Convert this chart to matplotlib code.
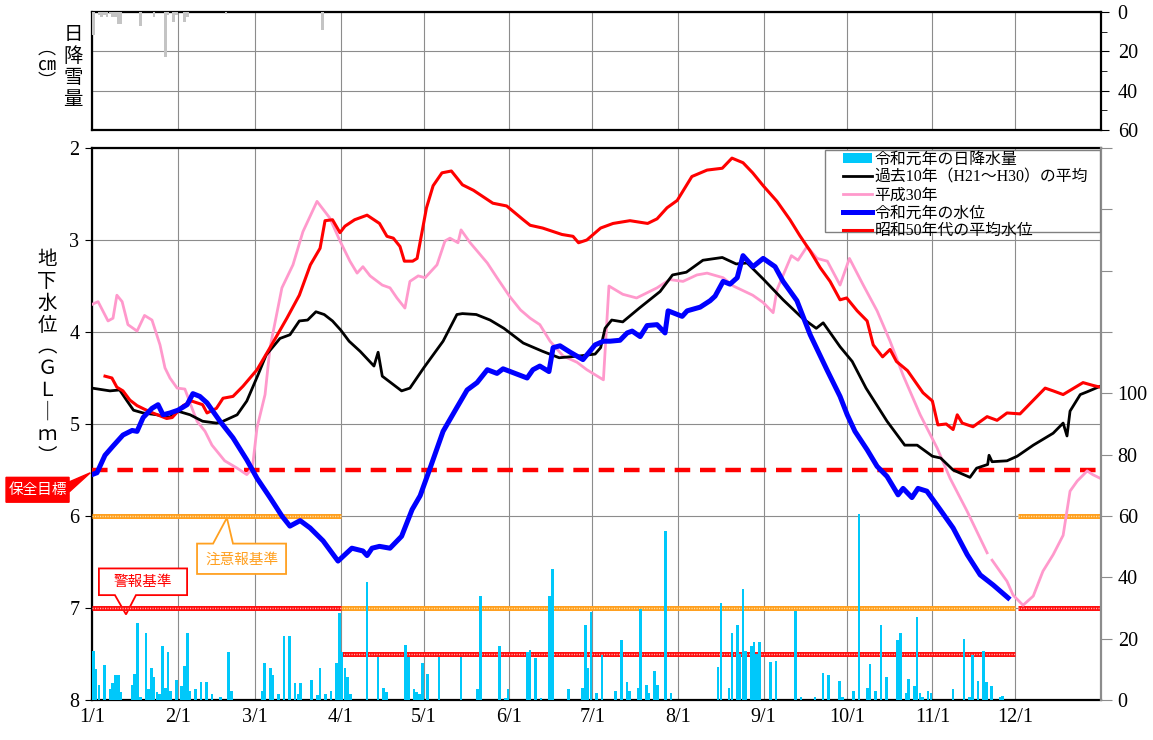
import numpy as np
import matplotlib.pyplot as plt
from matplotlib.patches import Patch, Polygon, Rectangle
from matplotlib.lines import Line2D

W, H = 1153, 740

# ---- data -------------------------------------------------------------
month_days = [0, 31, 59, 90, 120, 151, 181, 212, 243, 273, 304, 334]
month_labels = ["1/1", "2/1", "3/1", "4/1", "5/1", "6/1", "7/1", "8/1",
                "9/1", "10/1", "11/1", "12/1"]

# daily snowfall (cm)
snow_day = [0, 2, 3, 4, 5, 6, 7, 8, 9, 10, 17, 22, 26, 27, 29, 30, 33, 34, 48, 83]
snow_cm = [11.7, 1.5, 2.7, 1.5, 2.7, 1, 2.3, 2.3, 6.3, 6.3, 7, 2.3, 23, 1.5, 5, 1.5,
           5, 2.3, 1.2, 9]

# daily precipitation R1 (mm)
rain_day = [0, 1, 2, 4, 6, 7, 8, 9, 10, 14, 15, 16, 17, 19, 20, 21, 22, 23, 24,
            25, 26, 27, 28, 30, 32, 33, 34, 35, 37, 39, 41, 43, 46, 49, 50,
            61, 62, 64, 65, 67, 69, 71, 73, 74, 75, 79, 81, 82, 84, 86, 88, 89, 90, 91, 92, 93,
            99, 103, 105, 106, 113, 114, 116, 117, 118, 119, 121, 125, 133, 139, 140,
            147, 149, 150, 157, 158, 160, 162, 165, 166,
            172, 177, 178, 179, 180, 182, 184, 189, 191, 193, 194, 197, 198, 200, 201,
            203, 204, 207, 209,
            226, 227, 230, 231, 233, 234, 235, 236, 238, 239, 240, 241, 245, 247, 254,
            256, 261, 264, 266, 270, 271, 275, 277, 280, 281, 283, 285, 287, 291, 292,
            294, 295, 297, 298, 299, 300, 302, 303, 311, 315, 317, 318, 320, 322, 323,
            325, 328, 329]
rain_mm = [16, 10, 5, 11.5, 3.6, 5.6, 8, 8, 2.7, 5, 8.5, 25, 1, 22, 3.6, 10.5, 7.5, 2.6, 2,
           17.5, 4, 15.7, 3, 6.5, 4.6, 11, 22, 3, 3.6, 6, 6, 2, 1, 15.7, 3,
           3, 12, 10.5, 8, 2, 21, 21, 5.6, 2, 5.6, 6.5, 1.5, 10.5, 2, 3, 12, 28.5, 15.7, 10.5, 7.5, 2,
           38.5, 14, 4, 2.6, 18, 14, 3.6, 2.6, 2, 12, 8.5, 14, 14, 3.6, 34,
           17.5, 0.7, 3.6, 15.8, 16.4, 13.7, 0.5, 34, 42.8,
           3.6, 4, 24.5, 10.3, 28.6, 2.2, 14.6, 3, 19.6, 5.8, 3, 4, 29.7, 5, 2.2,
           9.5, 5, 55, 2.2,
           10.6, 31.6, 4, 21.8, 24.5, 15, 36.3, 15.9, 17.6, 19, 15, 19, 12.3, 12.7, 29,
           0.9, 0.9, 8.7, 8.2, 6.2, 0.9, 3, 60.8, 4, 11.7, 3, 24.5, 7.6, 19.6, 22,
           2.2, 7, 4.7, 27.2, 2.2, 0.9, 3, 2.2, 3.6, 20, 0.9, 14.7, 6.2, 16, 5.8,
           4.7, 0.9, 1.2]

# groundwater level R1 (GL-m)
r1_day = [0, 1.8, 4.7, 7.6, 11.2, 14.5, 16.3, 18.5, 21.7, 23.9, 25.7, 28.2, 31.1, 34.4,
          36.5, 39, 41.6, 46.3, 51, 56, 59.7, 64.4, 68.7, 71.6, 75.3, 78.9, 83.6, 89,
          94, 98, 99.5, 101.3, 104, 107.8, 112, 115.8, 118.7, 122.3, 127, 132, 135.7,
          139.3, 143, 146.5, 148.7, 157.4, 159.5, 162, 165.3, 166.8, 169.3, 173, 177.6,
          182, 185, 187.4, 191, 193.6, 195.4, 198.3, 200.8, 204.4, 207.3, 208.4, 213.5,
          215.3, 220, 223.6, 225.4, 228.3, 230.8, 233.4, 235.5, 239.1, 242.8, 247.1,
          250, 255, 259.8, 266, 270.6, 273.2, 276, 280.4, 284, 287.6, 291.6, 293.4,
          296.6, 298.8, 302, 306.8, 311.5, 316.6, 321.3, 326, 331.4]
r1_lv = [5.55, 5.53, 5.34, 5.24, 5.12, 5.07, 5.08, 4.93, 4.83, 4.79, 4.90, 4.88, 4.85, 4.79,
         4.67, 4.70, 4.77, 4.97, 5.15, 5.39, 5.59, 5.80, 6.00, 6.11, 6.05, 6.13, 6.27, 6.49,
         6.35, 6.38, 6.43, 6.35, 6.33, 6.35, 6.22, 5.93, 5.78, 5.48, 5.08, 4.82, 4.63,
         4.55, 4.41, 4.45, 4.40, 4.50, 4.41, 4.37, 4.43, 4.17, 4.15, 4.22, 4.30,
         4.14, 4.10, 4.10, 4.09, 4.01, 3.99, 4.05, 3.93, 3.92, 4.01, 3.77, 3.83,
         3.77, 3.73, 3.66, 3.61, 3.45, 3.48, 3.41, 3.17, 3.29, 3.20, 3.29,
         3.45, 3.66, 4.03, 4.42, 4.70, 4.90, 5.08, 5.28, 5.46, 5.57, 5.77, 5.70,
         5.80, 5.70, 5.73, 5.93, 6.13, 6.42, 6.64, 6.75, 6.89]

# 10-year average (H21-H30)
avg_day = [0, 6.5, 10, 12.7, 15, 18.5, 23.5, 28, 31, 35.5, 40, 45, 47.4, 52.5, 56, 60, 63,
           68, 71.6, 75, 78, 81, 84, 87, 90, 93, 97, 102, 103.5, 105, 112, 115, 120, 127,
           132, 134, 139, 144, 149, 156, 163, 169, 176.5, 182, 184, 185.6, 188, 192, 198,
           205.5, 210, 215, 221, 228, 233, 237, 243, 250, 257, 262, 264.5, 270.6, 275,
           280, 287.6, 294, 298.5, 304, 307, 311.5, 317.6, 320, 324, 324.5, 325.6, 331,
           334.7, 340.5, 347.7, 351.3, 352.7, 353.8, 357.5, 360, 364.7]
avg_lv = [4.61, 4.64, 4.63, 4.75, 4.85, 4.88, 4.90, 4.93, 4.86, 4.90, 4.97, 4.99, 4.97, 4.90,
          4.75, 4.47, 4.25, 4.07, 4.03, 3.88, 3.87, 3.78, 3.81, 3.88, 3.98, 4.10, 4.21, 4.37,
          4.22, 4.48, 4.64, 4.61, 4.39, 4.10, 3.81, 3.80, 3.81, 3.87, 3.96, 4.12, 4.21, 4.28,
          4.26, 4.24, 4.17, 3.96, 3.87, 3.89, 3.74, 3.56, 3.38, 3.35, 3.22, 3.19, 3.26, 3.25,
          3.43, 3.65, 3.85, 3.96, 3.90, 4.16, 4.32, 4.61, 4.97, 5.23, 5.23, 5.35, 5.37,
          5.50, 5.58, 5.48, 5.44, 5.34, 5.41, 5.40, 5.35, 5.23, 5.10, 4.99, 5.13, 4.86,
          4.68, 4.65, 4.59]

# H30
h30_day = [0, 2.2, 5.8, 7.6, 9, 10.9, 13, 16.3, 19, 21.7, 24.6, 26.4, 28.2, 30.8, 33.6,
           36.2, 38, 40.9, 43.4, 48, 52.5, 56, 58, 59.7, 62.6, 64.4, 68.7, 72.7, 76.3, 81.4,
           86, 89.7, 93.3, 95.9, 98, 100.6, 105, 107.8, 110.3, 113.2, 115, 118, 120.5,
           124.8, 127.7, 129.5, 132.4, 133.5, 136.8, 143, 146.5, 151, 155, 158.5, 162,
           165.7, 170.4, 175.5, 179, 185, 187, 192, 197, 204.4, 209, 213.8, 218.8, 222.5,
           228.3, 232, 239, 242.8, 246.4, 247.8, 253, 255.4, 258.7, 262.3, 266, 270.6, 274,
           279, 284, 288.7, 293.4, 299.6, 305.7, 310.4, 316.6, 323.8, 324.7, 325.6, 331,
           333.2, 336.8, 340.5, 344, 347.7, 351.3, 353.8, 356.4, 360, 362, 364.7]
h30_lv = [3.70, 3.67, 3.88, 3.85, 3.60, 3.67, 3.92, 3.99, 3.82, 3.87, 4.14, 4.39, 4.50, 4.61,
          4.62, 4.83, 4.97, 5.08, 5.23, 5.40, 5.48, 5.55, 5.48, 5.04, 4.68, 4.17, 3.52, 3.27,
          2.91, 2.58, 2.76, 3.01, 3.23, 3.36, 3.29, 3.39, 3.49, 3.52, 3.63, 3.74, 3.45, 3.39,
          3.41, 3.27, 3.01, 2.98, 3.03, 2.89, 3.03, 3.25, 3.41, 3.61, 3.76, 3.85, 3.92,
          4.10, 4.26, 4.33, 4.41, 4.52, 3.50, 3.59, 3.63, 3.52, 3.43, 3.45, 3.38, 3.36,
          3.41, 3.50, 3.60, 3.68, 3.79, 3.54, 3.17, 3.22, 3.07, 3.20, 3.23, 3.49, 3.20,
          3.49, 3.77, 4.10, 4.47, 4.90, 5.26, 5.59, 5.95, 6.40, np.nan, 6.48, 6.71,
          6.86, 6.97, 6.87, 6.60, 6.42, 6.21, 5.73, 5.62, 5.51, 5.55, 5.59]

# S50s average
s50_day = [4.7, 7.2, 9, 11.2, 13.7, 16.3, 19, 22, 27, 29, 33, 36, 40, 41.6, 45, 47.4, 51,
           54.6, 59.7, 64.4, 70.5, 75, 79, 82.5, 84.3, 87, 89.7, 91.5, 95, 99.5, 104, 106.7,
           109, 111.4, 113, 116, 117.6, 119.4, 121, 123.4, 126.6, 130, 134, 138, 145, 150,
           156, 158.5, 163, 170, 174, 176, 179, 184, 188.5, 194.6, 201, 204.4, 208, 211.7,
           217, 222.5, 228, 231.5, 235.5, 239, 242.8, 247.8, 252.5, 256, 259.8, 263.4, 267,
           270.6, 273, 276.8, 280.4, 282.6, 286, 288.7, 291, 295, 300.6, 304, 306, 309,
           311.5, 313, 314.8, 318.7, 323.8, 327.4, 331, 335.7, 338.3, 344.8, 347.7, 351.3,
           358.5, 362, 364.7]
s50_lv = [4.48, 4.50, 4.60, 4.64, 4.74, 4.80, 4.84, 4.88, 4.94, 4.93, 4.80, 4.75, 4.79, 4.88,
          4.83, 4.72, 4.70, 4.59, 4.41, 4.17, 3.85, 3.60, 3.27, 3.09, 2.79, 2.78, 2.92, 2.85,
          2.78, 2.73, 2.82, 2.96, 2.98, 3.07, 3.23, 3.23, 3.20, 2.91, 2.65, 2.41, 2.27, 2.25,
          2.40, 2.46, 2.60, 2.63, 2.78, 2.84, 2.87, 2.94, 2.96, 3.03, 3.00, 2.87, 2.82, 2.79,
          2.82, 2.77, 2.65, 2.57, 2.31, 2.24, 2.22, 2.11, 2.16, 2.27, 2.41, 2.58, 2.78, 2.95,
          3.12, 3.30, 3.45, 3.65, 3.63, 3.77, 3.88, 4.14, 4.27, 4.19, 4.32, 4.42, 4.66, 4.75,
          5.01, 5.00, 5.06, 4.90, 4.99, 5.03, 4.92, 4.96, 4.88, 4.89, 4.81, 4.61, 4.64, 4.68,
          4.55, 4.58, 4.60]

# reference levels
target_level = 5.5
caution_start = [0, 90, 335]
caution_end = [90, 334, 365]
caution_level = [6, 7, 6]
warning_start = [0, 90, 335]
warning_end = [90, 334, 365]
warning_level = [7, 7.5, 7]

# ---- figure ----------------------------------------------------------
jp = ['Noto Sans CJK JP', 'DejaVu Sans']
num = ['Liberation Serif', 'Noto Sans CJK JP']
plt.rcParams['font.family'] = num

fig = plt.figure(figsize=(W / 100, H / 100), dpi=100)


def px(x0, y0, x1, y1):
    return [x0 / W, 1 - y1 / H, (x1 - x0) / W, (y1 - y0) / H]


grid_c = '#8c8c8c'

# snowfall panel
ax_s = fig.add_axes(px(92, 12, 1101, 130))
ax_s.bar(snow_day, snow_cm, width=0.95, align='edge', color='#c4c4c4', zorder=3)
ax_s.set_xlim(0, 365)
ax_s.set_ylim(60, 0)
ax_s.set_xticks(month_days)
ax_s.set_xticklabels([])
ax_s.tick_params(axis='x', length=0)
ax_s.yaxis.tick_right()
ax_s.set_yticks([0, 20, 40, 60])
ax_s.set_yticks([10, 30, 50], minor=True)
ax_s.tick_params(axis='y', which='major', length=6, labelsize=14.5, pad=6)
ax_s.tick_params(axis='y', which='minor', length=4)
ax_s.grid(True, color=grid_c, lw=0.8)
ax_s.set_axisbelow(True)
for s in ax_s.spines.values():
    s.set_linewidth(1.6)

# main panel
ax = fig.add_axes(px(92, 148, 1101, 700))
ax.set_xlim(0, 365)
ax.set_ylim(8, 2)
ax.set_xticks(month_days, month_labels)
ax.set_yticks(range(2, 9))
ax.tick_params(axis='x', length=0, labelsize=14.5, pad=6)
ax.tick_params(axis='y', length=5, labelsize=14.5, pad=4)
ax.grid(True, color=grid_c, lw=0.8)
ax.set_axisbelow(True)
for k in ['left', 'bottom', 'top']:
    ax.spines[k].set_linewidth(1.6)
ax.spines['right'].set_visible(False)

# thresholds
ax.plot([0, 365], [target_level] * 2, color='#ff0000', lw=3.2, dashes=(3.5, 2.2), zorder=3)
for s, e, lv in zip(caution_start, caution_end, caution_level):
    ax.plot([s, e], [lv, lv], color='#ffa020', lw=3.6, solid_capstyle='butt', zorder=3)
    ax.plot([s, e], [lv, lv], color='#ffe2a8', lw=1.0, dashes=(0.8, 1.0), zorder=3)
for s, e, lv in zip(warning_start, warning_end, warning_level):
    ax.plot([s, e], [lv, lv], color='#ff1010', lw=3.6, solid_capstyle='butt', zorder=3)
    ax.plot([s, e], [lv, lv], color='#ffb0b0', lw=1.0, dashes=(0.8, 1.0), zorder=3)

# water level curves
ax.plot(h30_day, h30_lv, color='#ff99cc', lw=2.0, zorder=4)
ax.plot(avg_day, avg_lv, color='black', lw=2.0, zorder=4)
ax.plot(s50_day, s50_lv, color='#ff0000', lw=2.2, zorder=4)
ax.plot(r1_day, r1_lv, color='#0000ff', lw=3.6, zorder=5)

# callouts
ax.add_patch(Polygon([(-31.1, 5.58), (-8.3, 5.58), (-8.3, 5.63), (-0.6, 5.53),
                      (-8.3, 5.74), (-8.3, 5.85), (-31.1, 5.85)],
                     closed=True, facecolor='#ff0000', edgecolor='#ff0000',
                     clip_on=False, zorder=6))
ax.text(-19.7, 5.715, '保全目標', color='white', fontsize=10.5, family=jp,
        ha='center', va='center', clip_on=False, zorder=7)

ax.add_patch(Polygon([(38.0, 6.30), (43.8, 6.30), (48.8, 6.02), (51.0, 6.30),
                      (70.2, 6.30), (70.2, 6.63), (38.0, 6.63)],
                     closed=True, facecolor='white', edgecolor='#ffa020', lw=1.3, zorder=2))
ax.text(54.1, 6.47, '注意報基準', color='#ffa020', fontsize=10.5, family=jp,
        ha='center', va='center', zorder=2)

ax.add_patch(Polygon([(2.5, 6.57), (34.4, 6.57), (34.4, 6.86), (15.9, 6.86),
                      (12.3, 7.07), (8.3, 6.86), (2.5, 6.86)],
                     closed=True, facecolor='white', edgecolor='#ff0000', lw=1.3, zorder=2))
ax.text(18.45, 6.715, '警報基準', color='#ff0000', fontsize=10.5, family=jp,
        ha='center', va='center', zorder=2)

# precipitation on right axis
ax2 = ax.twinx()
ax2.bar(rain_day, rain_mm, width=0.95, align='edge', color='#00c8fa', zorder=3)
ax2.set_ylim(0, 180)
ax2.set_xlim(0, 365)
ax2.set_yticks(range(0, 181, 20))
ax2.set_yticklabels([str(v) if v <= 100 else '' for v in range(0, 181, 20)])
ax2.tick_params(axis='y', length=8, color='#8c8c8c', labelsize=14.5, pad=4)
for k in ['left', 'top', 'bottom']:
    ax2.spines[k].set_visible(False)
ax2.spines['right'].set_color('#8c8c8c')
ax2.spines['right'].set_linewidth(1.6)

# legend: white box drawn separately, entries on top
ax2.add_patch(Rectangle((0.7265, 0.848), 0.2725, 0.148, transform=ax2.transAxes,
                        facecolor='white', edgecolor='#808080', lw=1.0, zorder=9))
handles = [Patch(facecolor='#00c8fa', edgecolor='none'),
           Line2D([], [], color='black', lw=2.0),
           Line2D([], [], color='#ff99cc', lw=2.0),
           Line2D([], [], color='#0000ff', lw=3.6),
           Line2D([], [], color='#ff0000', lw=2.2)]
labels = ['令和元年の日降水量', '過去10年（H21～H30）の平均', '平成30年',
          '令和元年の水位', '昭和50年代の平均水位']
leg = ax2.legend(handles, labels, loc='upper left', bbox_to_anchor=(0.7443, 0.993),
                 prop={'family': num, 'size': 11.4}, frameon=False,
                 borderaxespad=0.0, labelspacing=0.12, handlelength=1.85,
                 handleheight=0.6, handletextpad=0.15, borderpad=0.0)
leg.set_zorder(10)

# axis titles
fig.text(47 / W, 1 - 358 / H, '地\n下\n水\n位\n︵\nＧ\nＬ\n｜\nｍ\n︶', family=jp,
         fontsize=14, ha='center', va='center', linespacing=1.05)
fig.text(73 / W, 1 - 67 / H, '日\n降\n雪\n量', family=jp, fontsize=14,
         ha='center', va='center', linespacing=1.05)
fig.text(47 / W, 1 - 65 / H, '︵\n㎝\n︶', family=jp, fontsize=13,
         ha='center', va='center', linespacing=0.9)

fig.savefig('out.png', dpi=100)
